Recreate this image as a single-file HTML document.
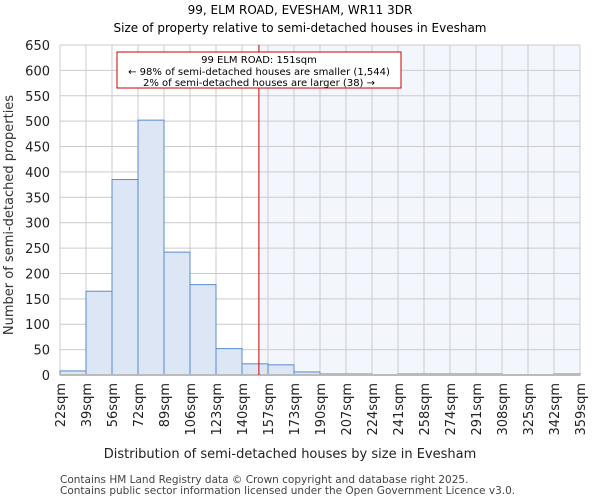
<!DOCTYPE html>
<html><head><meta charset="utf-8"><style>body{margin:0;background:#fff;font-family:"DejaVu Sans","Liberation Sans",sans-serif}</style></head>
<body>
<svg id="chart" width="600" height="500" xmlns="http://www.w3.org/2000/svg" font-family="DejaVu Sans, Liberation Sans, sans-serif"></svg>
<script>
const edgeLabels=["22sqm","39sqm","56sqm","72sqm","89sqm","106sqm","123sqm","140sqm","157sqm","173sqm","190sqm","207sqm","224sqm","241sqm","258sqm","274sqm","291sqm","308sqm","325sqm","342sqm","359sqm"];
const counts=[8,165,385,502,242,178,52,22,20,6,2,2,0,2,2,2,2,0,0,2];
const yTicks=[0,50,100,150,200,250,300,350,400,450,500,550,600,650];
const propertyBinPos=7.65;
const svg=document.getElementById('chart');
const NS='http://www.w3.org/2000/svg';
const L=60,R=580,T=45,B=375;
const bw=(R-L)/counts.length;
const x=i=>L+i*bw;
const y=v=>B-(v/650)*(B-T);
function mk(tag,a,name,txt){const e=document.createElementNS(NS,tag);for(const k in a)e.setAttribute(k,a[k]);


if(txt!==undefined)e.textContent=txt;svg.appendChild(e);return e;}
mk('text',{x:300,y:14,'text-anchor':'middle','font-size':12},'chart-title','99, ELM ROAD, EVESHAM, WR11 3DR');
mk('text',{x:300,y:32,'text-anchor':'middle','font-size':12},'chart-subtitle','Size of property relative to semi-detached houses in Evesham');
const lx=x(propertyBinPos);
mk('rect',{x:lx,y:T,width:R-lx,height:B-T,fill:'#f3f6fd'},'larger-region');
yTicks.forEach(t=>{mk('line',{x1:L,x2:R,y1:y(t),y2:y(t),stroke:'#ccc','stroke-width':1},'y-gridline');
mk('text',{x:L-10,y:y(t)+5,'text-anchor':'end','font-size':13,fill:'#222'},'y-tick-label',t);});
edgeLabels.forEach((lab,i)=>{mk('line',{x1:x(i),x2:x(i),y1:T,y2:B,stroke:'#ccc','stroke-width':1},'x-gridline');
mk('text',{transform:`translate(${x(i)+5},${B+8}) rotate(-90)`,'text-anchor':'end','font-size':13,fill:'#222'},'x-tick-label',lab);});
counts.forEach((c,i)=>{mk('rect',{x:x(i),y:y(c),width:bw,height:B-y(c),fill:'#dce6f4',stroke:'#5a8bd0','stroke-width':1},'bar-'+i);});
mk('line',{x1:L,x2:R,y1:B,y2:B,stroke:'#bbb','stroke-width':2},'x-axis');
mk('line',{x1:lx,x2:lx,y1:T,y2:B,stroke:'#c00','stroke-width':1},'property-line');
mk('rect',{x:117,y:52,width:284,height:36,fill:'#fff',stroke:'#c00','stroke-width':1},'annotation-box');
mk('text',{x:259,y:63,'text-anchor':'middle','font-size':10},'annotation-line1','99 ELM ROAD: 151sqm');
mk('text',{x:259,y:75,'text-anchor':'middle','font-size':10},'annotation-line2','← 98% of semi-detached houses are smaller (1,544)');
mk('text',{x:259,y:86,'text-anchor':'middle','font-size':10},'annotation-line3','2% of semi-detached houses are larger (38) →');
mk('text',{transform:'translate(13,215) rotate(-90)','text-anchor':'middle','font-size':13,fill:'#333'},'y-axis-title','Number of semi-detached properties');
mk('text',{x:290,y:458,'text-anchor':'middle','font-size':13,fill:'#222'},'x-axis-title','Distribution of semi-detached houses by size in Evesham');
mk('text',{x:60,y:483,'font-size':10.5,fill:'#444'},'footer-line1','Contains HM Land Registry data © Crown copyright and database right 2025.');
mk('text',{x:60,y:494,'font-size':10.5,fill:'#444'},'footer-line2','Contains public sector information licensed under the Open Government Licence v3.0.');
</script>
</body></html>
